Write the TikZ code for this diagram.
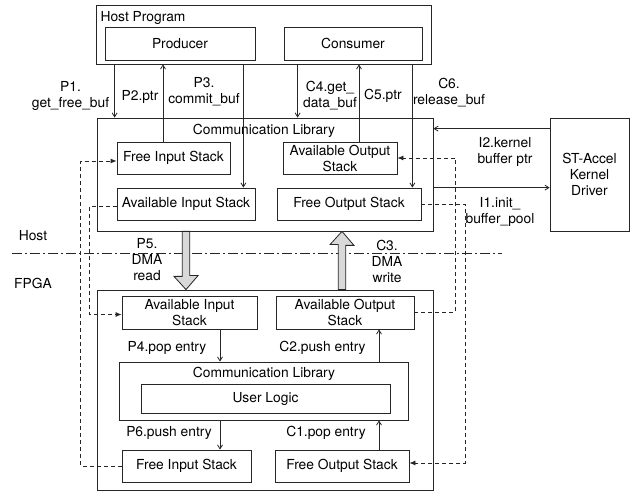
\documentclass[tikz,border=0pt]{standalone}
\usepackage{fontspec}
\setmainfont{TeX Gyre Heros}
\usetikzlibrary{arrows.meta}
\colorlet{lnx}{black!85}
\colorlet{dmx}{black!15}
\tikzset{
    blk/.style={draw=lnx,line width=0.8pt,inner sep=0pt,align=center},
    lbl/.style={inner sep=0pt,align=center},
    sarr/.style={lnx,line width=0.8pt,-{Straight Barb[length=4pt,width=5pt]}},
    darr/.style={lnx,line width=0.8pt,dash pattern=on 4pt off 3pt,-{Latex[length=6pt,width=5pt]}},
    dma/.style={draw=lnx,fill=dmx,line width=0.8pt,line join=miter},
    sepl/.style={lnx,line width=0.8pt,dash pattern=on 10pt off 3pt on 2pt off 3pt}
}

\begin{document}
\begin{tikzpicture}[x=1pt,y=-1pt,font=\fontsize{13.8}{16}\selectfont]
            \useasboundingbox (0,0) rectangle (641,494);
            \draw [sepl] (12,253) -- (502,253);
            \node [lbl] (hst) at (33,236) {Host};
            \node [lbl] (fpg) at (33,283) {FPGA};
            % host side
            \node [blk,minimum width=335,minimum height=59] (hp) at (263.5,34.5) {};
            \node [lbl] (hpl) at (143,18) {Host Program};
            \node [blk,minimum width=150,minimum height=33] (prod) at (180,43.5) {Producer};
            \node [blk,minimum width=138,minimum height=33] (cons) at (353,43.5) {Consumer};
            \node [blk,minimum width=336,minimum height=113] (hcl) at (265,174.5) {};
            \node [lbl] (hcll) at (264,131) {Communication Library};
            \node [blk,minimum width=113,minimum height=32] (hfis) at (173.5,158) {Free Input Stack};
            \node [blk,minimum width=138,minimum height=32] (hais) at (186,204) {Available Input Stack};
            \node [blk,minimum width=114,minimum height=32] (haos) at (340,158) {Available Output\\Stack};
            \node [blk,minimum width=144,minimum height=32] (hfos) at (349,204) {Free Output Stack};
            \node [blk,minimum width=79,minimum height=113] (kdrv) at (589.5,174.5) {ST-Accel\\Kernel\\Driver};
            % fpga side
            \node [blk,minimum width=336,minimum height=200] (fpga) at (265,390) {};
            \node [blk,minimum width=135,minimum height=33] (fais) at (189.5,312.5) {Available Input\\Stack};
            \node [blk,minimum width=138,minimum height=33] (faos) at (345,312.5) {Available Output\\Stack};
            \node [blk,minimum width=289,minimum height=58] (fcl) at (263.5,391) {};
            \node [lbl] (fcll) at (264,374) {Communication Library};
            \node [blk,minimum width=249,minimum height=29] (ulog) at (265.5,398.5) {User Logic};
            \node [blk,minimum width=129,minimum height=32] (ffis) at (186.5,466) {Free Input Stack};
            \node [blk,minimum width=134,minimum height=32] (ffos) at (342,466) {Free Output Stack};
            % calls
            \draw [sarr] ([xshift=-2pt]hfis.west |- hp.south) -- ([xshift=-2pt]hfis.west |- hcl.north);
            \draw [sarr] ([xshift=-10.5pt]hfis.north) -- ([xshift=-10.5pt]hfis.north |- hp.south);
            \draw [sarr] ([xshift=-12pt]hais.north east |- hp.south) -- ([xshift=-12pt]hais.north east);
            \draw [sarr] ([xshift=14pt]cons.west |- hp.south) -- ([xshift=14pt]cons.west |- hcl.north);
            \draw [sarr] ([xshift=19pt]haos.north) -- ([xshift=19pt]haos.north |- hp.south);
            \draw [sarr] ([xshift=-9pt]hfos.north east |- hp.south) -- ([xshift=-9pt]hfos.north east);
            \draw [sarr] ([yshift=-11pt]kdrv.north west) -- ([yshift=-11pt]hcl.north east);
            \draw [sarr] (hfos.north -| hcl.east) -- (hfos.north -| kdrv.west);
            \draw [sarr] ([xshift=30.5pt]fais.south) -- ([xshift=30.5pt]fais.south |- fcl.north);
            \draw [sarr] ([xshift=34pt]faos.south |- fcl.north) -- ([xshift=34pt]faos.south);
            \draw [sarr] ([xshift=33.5pt]ffis.north |- fcl.south) -- ([xshift=33.5pt]ffis.north);
            \draw [sarr] ([xshift=37pt]ffos.north) -- ([xshift=37pt]ffos.north |- fcl.south);
            \draw [darr] (ffis.west) -- ++(-41,0) |- ([yshift=-3pt]hfis.west);
            \draw [darr] ([yshift=-2pt]hais.west) -- ++(-27,0) |- ([yshift=-2pt]fais.west);
            \draw [darr] (faos.east) -- ++(41,0) |- (haos.east);
            \draw [darr] (hfos.east) -- ++(44,0) |- ([yshift=3pt]ffos.east);
            \draw [dma] ([xshift=-3.75pt]hais.south |- hcl.south) -- ++(0,45) -- ++(-8.25,0)
                -- (hais.south |- fpga.north) -- ++(12,-14) -- ++(-8.25,0)
                -- ([xshift=3.75pt]hais.south |- hcl.south) -- cycle;
            \draw [dma] ([xshift=-3.75pt]ffos.north |- fpga.north) -- ++(0,-45) -- ++(-8.25,0)
                -- (ffos.north |- hcl.south) -- ++(12,14) -- ++(-8.25,0)
                -- ([xshift=3.75pt]ffos.north |- fpga.north) -- cycle;
            % labels
            \node [lbl] (p1) at (70.5,96) {P1.\\get\_free\_buf};
            \node [lbl] (p2) at (140,97) {P2.ptr};
            \node [lbl] (p3) at (204,92) {P3.\\commit\_buf};
            \node [lbl] (c4) at (330,96) {C4.get\_\\data\_buf};
            \node [lbl] (c5) at (383,96) {C5.ptr};
            \node [lbl] (c6) at (449,93) {C6.\\release\_buf};
            \node [lbl] (i2) at (505,152) {I2.kernel\\buffer ptr};
            \node [lbl] (i1) at (500,212) {I1.init\_\\buffer\_pool};
            \node [lbl] (p5) at (147,260) {P5.\\DMA\\read};
            \node [lbl] (c3) at (387,261) {C3.\\DMA\\write};
            \node [lbl] (p4) at (167,348) {P4.pop entry};
            \node [lbl] (c2) at (322.5,348) {C2.push entry};
            \node [lbl] (p6) at (169,433) {P6.push entry};
            \node [lbl] (c1) at (326,433) {C1.pop entry};
\end{tikzpicture}
\end{document}
